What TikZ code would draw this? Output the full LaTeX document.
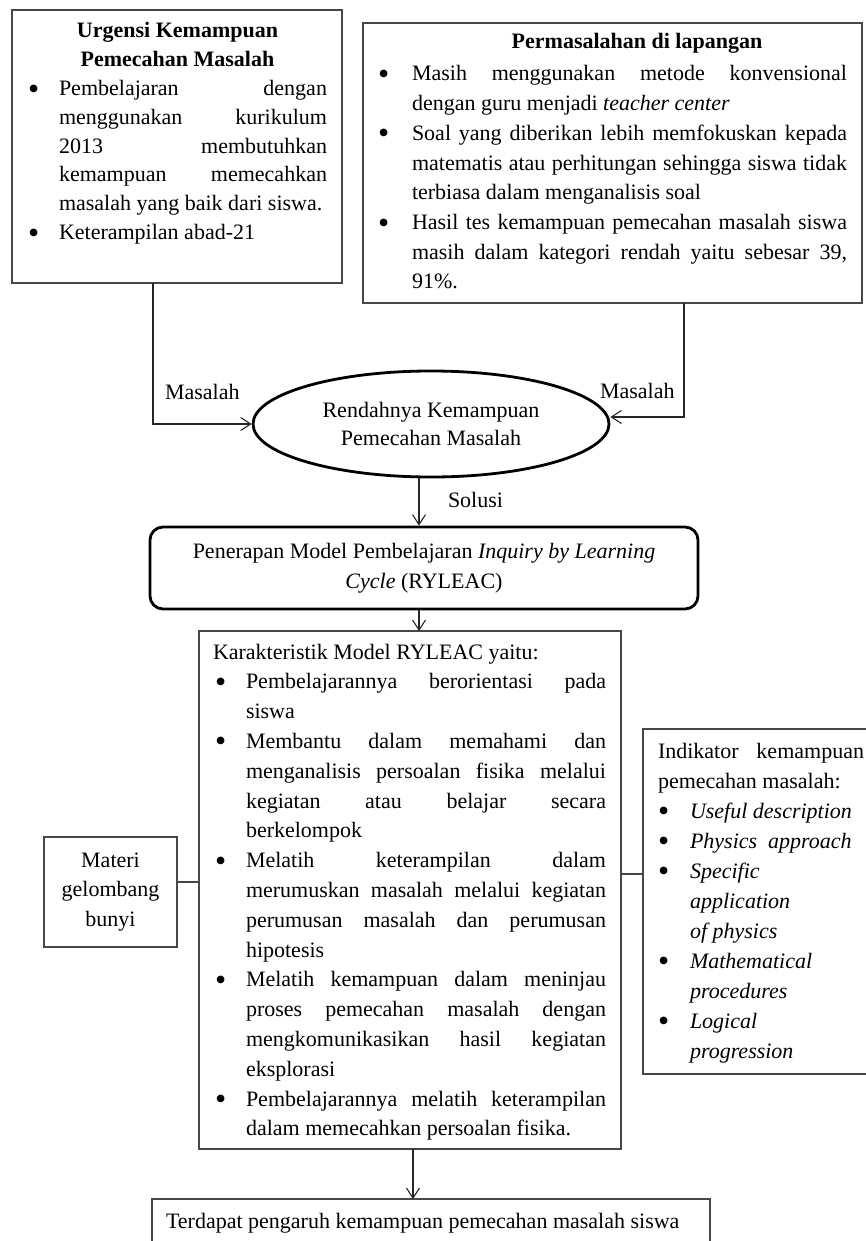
\documentclass[tikz,border=0pt]{standalone}
\usepackage{fontspec}
\usepackage{graphicx}
\setmainfont{Liberation Serif}
\usetikzlibrary{shapes.geometric,arrows.meta,calc}

\newlength{\bulind}
\newlength{\itmind}
\newcommand{\bigbul}{\raisebox{-0.35ex}{\scalebox{1.45}{\textbullet}}}
\newcommand{\itm}[1]{\par\noindent\hangindent=\itmind\hangafter=1 \makebox[\itmind][l]{\hspace*{\bulind}\bigbul}#1\par}
\newcommand{\setpar}[1]{\fontsize{11pt}{#1}\selectfont\setlength{\parindent}{0pt}\setlength{\parskip}{0pt}\tolerance=10000 \hbadness=10000 \hyphenpenalty=10000 \exhyphenpenalty=10000 }

\begin{document}
\begin{tikzpicture}[x=0.5pt,y=-0.5pt,
  box/.style={draw=black!72,line width=0.65pt,inner sep=0pt,outer sep=0pt,anchor=north west},
  txt/.style={inner sep=0pt,outer sep=0pt,anchor=base west,text=black,font=\fontsize{11pt}{14pt}\selectfont},
  arr/.style={draw=black!85,line width=0.55pt,-{Straight Barb[length=5pt,width=6.5pt]}},
  ln/.style={draw=black!72,line width=0.6pt},
  lab/.style={inner sep=0pt,outer sep=0pt,anchor=base west,font=\fontsize{11pt}{14pt}\selectfont}]
\useasboundingbox (0,0) rectangle (866,1241);
\clip (0,0) rectangle (866,1241);

% Box 1: Urgensi
\node[box,minimum width=165pt,minimum height=136.5pt] (u1) at (12,10) {};
\node[txt] (u1t) at (28,38) {\parbox[t]{149.5pt}{\setpar{14.4pt}\setlength{\bulind}{0pt}\setlength{\itmind}{15.5pt}%
{\centering\bfseries Urgensi Kemampuan\\Pemecahan Masalah\par}%
\itm{Pembelajaran dengan\linebreak menggunakan kurikulum\linebreak 2013 membutuhkan\linebreak kemampuan memecahkan\linebreak masalah yang baik dari siswa.}%
\itm{Keterampilan abad-21}}};

% Box 2: Permasalahan
\node[box,minimum width=249.5pt,minimum height=140pt] (p2) at (363,23) {};
\node[txt] (p2t) at (378,49) {\parbox[t]{234.5pt}{\setpar{14.85pt}\setlength{\bulind}{0pt}\setlength{\itmind}{17pt}%
\noindent\makebox[\linewidth][c]{\hspace{24.5pt}\bfseries Permasalahan di lapangan}\par\vspace{1.15pt}%
\itm{Masih menggunakan metode konvensional\linebreak dengan guru menjadi \textit{teacher center}}%
\itm{Soal yang diberikan lebih memfokuskan kepada\linebreak matematis atau perhitungan sehingga siswa tidak\linebreak terbiasa dalam menganalisis soal}%
\itm{Hasil tes kemampuan pemecahan masalah siswa\linebreak masih dalam kategori rendah yaitu sebesar 39,\linebreak 91\%.}}};

% Ellipse
\node[ellipse,draw=black,line width=1.4pt,minimum width=178pt,minimum height=53pt,inner sep=0pt,align=center,font=\fontsize{11pt}{14pt}\selectfont] (ell) at (431,424) {Rendahnya Kemampuan\\Pemecahan Masalah};

% Penerapan
\node[draw=black,line width=1.4pt,rounded corners=6.5pt,minimum width=274pt,minimum height=41pt,inner sep=0pt,align=center,font=\fontsize{11pt}{14.9pt}\selectfont] (pen) at (424,568) {Penerapan Model Pembelajaran \textit{Inquiry by Learning}\\\textit{Cycle} (RYLEAC)};

% Karakteristik
\node[box,minimum width=211pt,minimum height=259pt] (kar) at (199,631) {};
\node[txt] (kart) at (213,659) {\parbox[t]{196.5pt}{\setpar{14.9pt}\setlength{\bulind}{1pt}\setlength{\itmind}{16.5pt}%
Karakteristik Model RYLEAC yaitu:\par
\itm{Pembelajarannya berorientasi pada\linebreak siswa}%
\itm{Membantu dalam memahami dan\linebreak menganalisis persoalan fisika melalui\linebreak kegiatan atau belajar secara\linebreak berkelompok}%
\itm{Melatih keterampilan dalam\linebreak merumuskan masalah melalui kegiatan\linebreak perumusan masalah dan perumusan\linebreak hipotesis}%
\itm{Melatih kemampuan dalam meninjau\linebreak proses pemecahan masalah dengan\linebreak mengkomunikasikan hasil kegiatan\linebreak eksplorasi}%
\itm{Pembelajarannya melatih keterampilan\linebreak dalam memecahkan persoalan fisika.}}};

% Materi
\node[box,anchor=center,minimum width=66.5pt,minimum height=55pt,align=center,font=\fontsize{11pt}{14.75pt}\selectfont] (mat) at (110.5,892) {Materi\\gelombang\\bunyi};

% Indikator
\node[box,minimum width=125pt,minimum height=172.5pt] (ind) at (643,729) {};
\node[txt] (indt) at (658,758) {\parbox[t]{103pt}{\setpar{15pt}\setlength{\bulind}{0pt}\setlength{\itmind}{16pt}%
Indikator kemampuan\linebreak pemecahan masalah:\par
\itm{\textit{Useful description}}%
\itm{\textit{Physics\ \ approach}}%
\itm{\textit{Specific\newline application\newline of physics}}%
\itm{\textit{Mathematical\newline procedures}}%
\itm{\textit{Logical\newline progression}}}};

% Result
\node[box,minimum width=279pt,minimum height=50pt] (res) at (152,1199) {};
\node[txt] (rest) at (166,1228) {Terdapat pengaruh kemampuan pemecahan masalah siswa};

% Labels
\node[lab] (m1) at (165,399) {Masalah};
\node[lab] (m2) at (600,398) {Masalah};
\node[lab] (sol) at (448,507) {Solusi};

% Connectors
\coordinate (lx) at (153,0);
\coordinate (rx) at (684,417);
\coordinate (sx) at (419,0);
\coordinate (bx) at (413,0);
\coordinate (mc) at (0,882);
\coordinate (ic) at (0,874);
\draw[arr] (u1.south -| lx) |- (ell.west);
\draw[arr] (p2.south -| rx) |- (rx -| ell.east);
\draw[arr] (ell.south -| sx) -- (pen.north -| sx);
\draw[arr] (pen.south -| sx) -- (kar.north -| sx);
\draw[arr] (kar.south -| bx) -- (res.north -| bx);
\draw[ln] (mat.east |- mc) -- (kar.west |- mc);
\draw[ln] (kar.east |- ic) -- (ind.west |- ic);
\end{tikzpicture}
\end{document}
